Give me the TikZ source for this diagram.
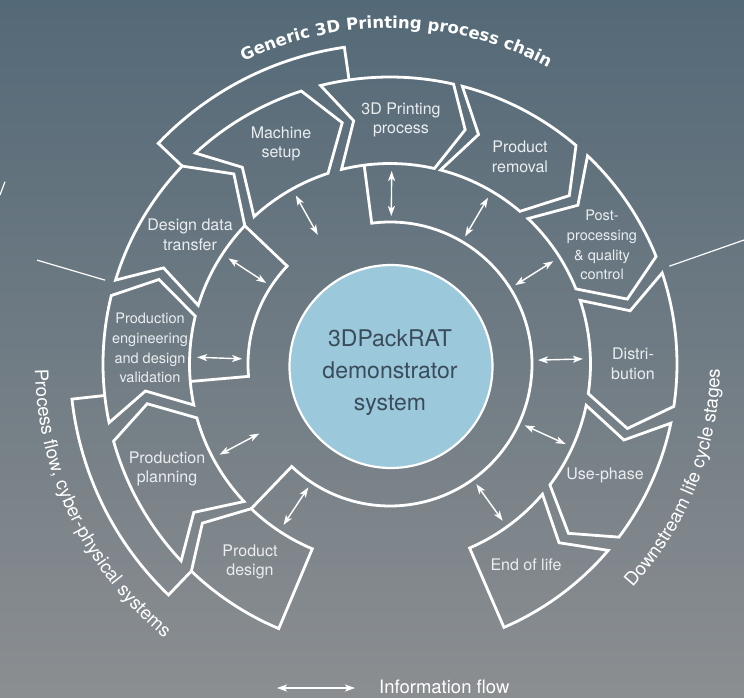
\documentclass[tikz,border=0pt]{standalone}
\usepackage{fontspec}
\setmainfont{TeX Gyre Heros}
\newfontfamily\titlefont{DejaVu Sans}
\usetikzlibrary{arrows.meta,decorations.text}

\definecolor{bgtop}{RGB}{84,105,119}
\definecolor{bgbot}{RGB}{139,142,145}
\definecolor{disc}{RGB}{155,200,218}
\definecolor{disctext}{RGB}{58,76,90}
\definecolor{labeltext}{RGB}{234,238,240}

\def\chRo{287}
\def\chRi{200.5}
\def\chRm{246}
\def\chRing{142}
\def\chBand{320}

% #1 leading angle, #2 trailing angle, #3 tip depth, #4 notch depth
\newcommand{\chev}[4]{%
  \draw[frame] (#2:\chRo) arc[start angle=#2, end angle=#1, radius=\chRo]
    -- ({#1-#3}:\chRm) -- (#1:\chRi)
    arc[start angle=#1, end angle=#2, radius=\chRi]
    -- ({#2-#4}:\chRm) -- cycle;}

\tikzset{
  frame/.style={draw=white, line width=2.8pt, line join=miter, miter limit=12},
  divider/.style={draw=white, line width=1.2pt},
  info/.style={draw=white, line width=1.4pt,
    {Stealth[length=10pt,width=7pt,inset=2.5pt]}-{Stealth[length=10pt,width=7pt,inset=2.5pt]}},
  lbl/.style={text=labeltext, align=center, inner sep=0pt,
    font=\fontsize{16}{19.5}\selectfont},
  lblsmall/.style={lbl, font=\fontsize{14.5}{19.7}\selectfont},
}

\begin{document}
\begin{tikzpicture}[x=1pt,y=1pt]
% pixel (px,py) -> (px-390, 364-py)
\useasboundingbox (-390,-333) rectangle (354,364);
\shade[top color=bgtop, bottom color=bgbot] (-390,-333) rectangle (354,364);

% central disc
\node[circle, fill=disc, draw=white, line width=2.2pt, minimum size=203pt, inner sep=0pt] (core) at (1,-2.5) {};
\node[text=disctext, align=center, inner sep=0pt, font=\fontsize{23}{32}\selectfont] (coretext) at (0,-9) {3DPackRAT\\demonstrator\\system};

% information ring with stems
\draw[frame] (97.4:\chRi) -- (97.4:\chRing) arc[start angle=97.4, end angle=-133.8, radius=\chRing] -- (-133.8:\chRi);
\draw[frame] (136.4:\chRi) -- (136.4:\chRing) arc[start angle=136.4, end angle=185, radius=\chRing] -- (185:\chRi);

% outer bands
\draw[frame] (98.2:\chRo) -- (98.2:\chBand) arc[start angle=98.2, end angle=136.4, radius=\chBand] -- (136.4:\chRo);
\draw[frame] (186.3:\chRo) -- (186.3:\chBand) arc[start angle=186.3, end angle=226.2, radius=\chBand] -- (226.2:\chRo);

% process chain elements
\chev{226.2}{247.2}{5.9}{0}     % Product design
\chev{195.6}{223.3}{6.3}{6.2}   % Production planning
\chev{166.2}{191.8}{6.3}{5.5}   % Production engineering
\chev{136.4}{163}{7}{6}         % Design data transfer
\chev{108}{132.7}{6.8}{5.8}     % Machine setup
\chev{77.2}{104}{5}{5.5}        % 3D printing
\chev{49.6}{75.4}{6.4}{6.5}     % Product removal
\chev{22}{46.5}{6.7}{6.3}       % Post-processing
\chev{-8.5}{18.5}{6.7}{6}       % Distribution
\chev{-37.1}{-11.9}{6.4}{6.1}   % Use-phase
\chev{-66.6}{-40.5}{0}{6.1}     % End of life

% dividers
\draw[divider] (163.6:297) -- (163.6:368);
\draw[divider] (19.3:296) -- (19.3:385);
\draw[divider] (-390,169) -- (-385,182.3);

% information flow arrows
\foreach \a [count=\i] in {178,146.8,119.2,89.5,59.5,32.2,1.5,-24.5,-54.3,-123.5,-152}{
  \coordinate (ia\i) at (\a:148);
  \coordinate (ib\i) at (\a:193);
  \draw[info] (ia\i) -- (ib\i);
}

% labels
\node[lbl] (ms) at (-109,220) {Machine\\setup};
\node[lbl] (pp3d) at (11,244) {3D Printing\\process};
\node[lbl] (pr) at (130,207) {Product\\removal};
\node[lblsmall] (ppq) at (212,119) {Post-\\processing\\\& quality\\control};
\node[lbl] (dist) at (243,0) {Distri-\\bution};
\node[lbl] (use) at (215,-111) {Use-phase};
\node[lbl] (eol) at (136,-201) {End of life};
\node[lbl] (pd) at (-140,-198) {Product\\design};
\node[lbl] (plan) at (-223,-105) {Production\\planning};
\node[lblsmall] (pe) at (-240,16) {Production\\engineering\\and design\\validation};
\node[lbl] (ddt) at (-200,129) {Design data\\transfer};

% curved titles
\path[decorate, decoration={text along path, text align=center,
  text={|\titlefont\bfseries\fontsize{16.5}{20}\selectfont\color{white}|Generic 3D Printing process chain}}]
  (118:336) arc[start angle=118, end angle=59.7, radius=336];
\path[decorate, decoration={text along path, text align=center,
  text={|\fontsize{18.6}{20}\selectfont\color{white}|Process flow, cyber-physical systems}}]
  (175.7:355) arc[start angle=175.7, end angle=235.7, radius=355];
\path[decorate, decoration={text along path, text align=center,
  text={|\fontsize{18.6}{20}\selectfont\color{white}|Downstream life cycle stages}}]
  (-56:330) arc[start angle=-56, end angle=12.4, radius=330];

% legend
\coordinate (lg1) at (-113,-324);
\coordinate (lg2) at (-35,-324);
\draw[info] (lg1) -- (lg2);
\node[anchor=west, inner sep=0pt, text=white, font=\fontsize{18.5}{20}\selectfont] (lgt) at (-11,-323) {Information flow};
\end{tikzpicture}
\end{document}
